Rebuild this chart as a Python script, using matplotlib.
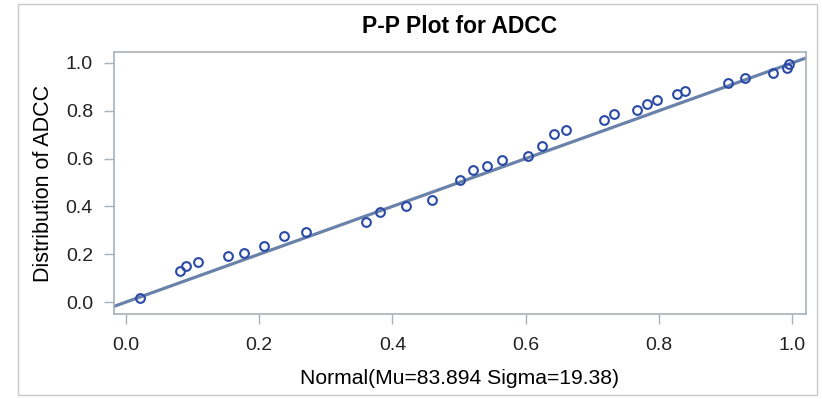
import numpy as np
import matplotlib
matplotlib.use('Agg')
import matplotlib.pyplot as plt
from matplotlib.patches import Rectangle

plt.rcParams['font.family'] = ['Liberation Sans', 'DejaVu Sans']

# Probabilidades teóricas (Normal) y distribución empírica de ADCC
p_normal = [0.021, 0.081, 0.090, 0.108, 0.153, 0.177, 0.207, 0.237, 0.270,
            0.360, 0.381, 0.420, 0.459, 0.501, 0.521, 0.542, 0.564, 0.603,
            0.625, 0.643, 0.661, 0.718, 0.733, 0.767, 0.782, 0.797, 0.827,
            0.839, 0.904, 0.929, 0.971, 0.992, 0.995]
p_empirica = [0.017, 0.130, 0.150, 0.167, 0.192, 0.205, 0.234, 0.276, 0.293,
              0.335, 0.377, 0.400, 0.427, 0.510, 0.552, 0.569, 0.594, 0.611,
              0.653, 0.703, 0.720, 0.762, 0.787, 0.803, 0.828, 0.845, 0.870,
              0.883, 0.916, 0.937, 0.958, 0.979, 0.996]
ref_linea = [-0.05, 1.05]

ticks = [0.0, 0.2, 0.4, 0.6, 0.8, 1.0]
tick_labels = ['0.0', '0.2', '0.4', '0.6', '0.8', '1.0']

fig = plt.figure(figsize=(8.22, 3.99), dpi=100)
ax = fig.add_axes([0.1387, 0.213, 0.8418, 0.6567])

# borde exterior gris
fig.patches.append(Rectangle((18 / 822, 4 / 399), 799 / 822, 391 / 399,
                             transform=fig.transFigure, fill=False,
                             edgecolor='#c8c8c8', linewidth=1.0))

ax.plot(ref_linea, ref_linea, color='#6a82aa', linewidth=2.3, zorder=2)
ax.plot(p_normal, p_empirica, linestyle='none', marker='o', markersize=6.3,
        markerfacecolor='none', markeredgecolor='#2a4aa8', markeredgewidth=1.5,
        zorder=3)

ax.set_xlim(-0.018, 1.021)
ax.set_ylim(-0.050, 1.046)
ax.set_xticks(ticks)
ax.set_xticklabels(tick_labels)
ax.set_yticks(ticks)
ax.set_yticklabels(tick_labels)

for s in ax.spines.values():
    s.set_color('#a8b0b8')
    s.set_linewidth(1.2)
ax.tick_params(colors='#a8b0b8', labelcolor='#222222', labelsize=14,
               length=7.2, width=1.0, direction='out')
ax.tick_params(axis='x', pad=9.5)
ax.tick_params(axis='y', pad=8)

ax.set_title('P-P Plot for ADCC', fontsize=16.5, fontweight='bold', pad=13.5)
ax.set_xlabel('Normal(Mu=83.894 Sigma=19.38)', fontsize=15.2, labelpad=11)
ax.set_ylabel('Distribution of ADCC', fontsize=15.5, labelpad=8.5)

fig.savefig('out.png', dpi=100)
